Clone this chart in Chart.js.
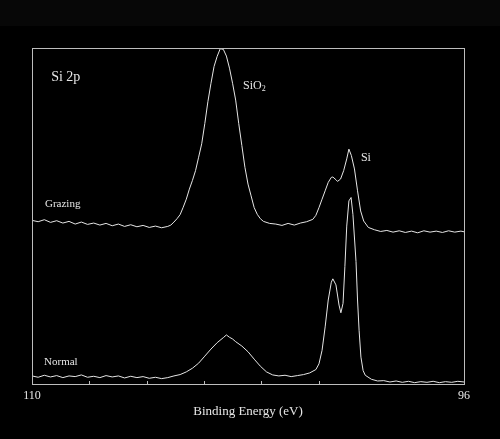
<!DOCTYPE html>
<html>
<head>
<meta charset="utf-8">
<script src="https://cdn.jsdelivr.net/npm/chart.js@4"></script>
<style>
  html, body { margin: 0; padding: 0; background: #000; }
  #wrap { width: 500px; height: 439px; }
</style>
</head>
<body>
<div id="wrap"><canvas id="xps"></canvas></div>
<script>
// Si 2p spectra, binding energy in eV, intensity in arbitrary units (grazing is offset)
const grazingEnergy = [
  110.0, 109.8, 109.6, 109.4, 109.2, 109.0, 108.8, 108.6, 108.4, 108.2,
  108.0, 107.8, 107.6, 107.4, 107.2, 107.0, 106.8, 106.6, 106.4, 106.2,
  106.0, 105.8, 105.6, 105.5, 105.4, 105.3, 105.2, 105.1, 105.0, 104.9,
  104.8, 104.7, 104.6, 104.5, 104.4, 104.3, 104.2, 104.1, 104.0, 103.9,
  103.8, 103.7, 103.6, 103.5, 103.4, 103.3, 103.2, 103.1, 103.0, 102.9,
  102.8, 102.7, 102.6, 102.5, 102.3, 102.1, 101.9, 101.7, 101.5, 101.3,
  101.1, 100.9, 100.8, 100.7, 100.6, 100.5, 100.4, 100.3, 100.25, 100.15,
  100.1, 100.0, 99.9, 99.8, 99.73, 99.65, 99.55, 99.45, 99.35, 99.25,
  99.1, 98.9, 98.7, 98.5, 98.3, 98.1, 97.9, 97.7, 97.5, 97.3,
  97.1, 96.9, 96.7, 96.5, 96.3, 96.1, 96.0
];
const grazingCounts = [
  48.7, 48.3, 48.9, 48.1, 48.6, 47.9, 48.4, 47.6, 48.2, 47.5,
  47.9, 47.3, 47.8, 47.1, 47.6, 46.9, 47.4, 46.8, 47.2, 46.6,
  47.0, 46.5, 46.9, 47.3, 48.2, 49.2, 50.4, 52.6, 55.0, 58.0,
  60.6, 63.5, 67.5, 71.5, 77.5, 84.0, 89.5, 94.5, 97.5, 99.8,
  99.6, 97.6, 94.0, 89.5, 84.5, 77.5, 71.0, 64.5, 59.5, 56.0,
  52.5, 50.5, 49.2, 48.4, 47.8, 47.6, 47.2, 47.8, 47.3, 47.9,
  48.3, 49.0, 50.2, 52.5, 55.0, 57.5, 60.0, 61.5, 61.6, 60.8,
  60.3, 61.0, 63.5, 67.0, 69.9, 68.0, 64.0, 57.5, 51.5, 48.5,
  46.6, 45.9, 45.4, 45.7, 45.2, 45.6, 45.1, 45.5, 45.0, 45.6,
  45.2, 45.5, 45.1, 45.6, 45.2, 45.5, 45.3
];
const normalEnergy = [
  110.0, 109.8, 109.6, 109.4, 109.2, 109.0, 108.8, 108.6, 108.4, 108.2,
  108.0, 107.8, 107.6, 107.4, 107.2, 107.0, 106.8, 106.6, 106.4, 106.2,
  106.0, 105.8, 105.6, 105.4, 105.2, 105.0, 104.8, 104.6, 104.4, 104.2,
  104.0, 103.8, 103.7, 103.6, 103.5, 103.4, 103.2, 103.0, 102.8, 102.6,
  102.4, 102.2, 102.0, 101.8, 101.6, 101.4, 101.2, 101.0, 100.8, 100.7,
  100.6, 100.5, 100.4, 100.3, 100.25, 100.15, 100.05, 99.99, 99.92, 99.86,
  99.8, 99.73, 99.66, 99.6, 99.5, 99.45, 99.4, 99.34, 99.27, 99.2,
  99.0, 98.8, 98.6, 98.4, 98.2, 98.0, 97.8, 97.6, 97.4, 97.2,
  97.0, 96.8, 96.6, 96.4, 96.2, 96.0
];
const normalCounts = [
  2.4, 2.0, 2.6, 2.1, 2.5, 1.9, 2.4, 2.2, 2.7, 2.0,
  2.3, 1.9, 2.5, 2.1, 2.4, 1.8, 2.3, 1.9, 2.2, 1.7,
  2.0, 1.6, 1.9, 2.4, 2.8, 3.6, 4.7, 6.2, 8.3, 10.4,
  12.3, 13.8, 14.6, 13.9, 13.4, 12.6, 11.3, 9.6, 7.4, 5.3,
  3.6, 2.7, 2.4, 2.6, 2.2, 2.5, 2.8, 3.3, 4.3, 6.0,
  10.0, 17.0, 25.0, 30.3, 31.3, 29.5, 23.5, 21.2, 24.0, 35.0,
  47.0, 54.5, 55.5, 50.5, 36.5, 25.0, 16.0, 8.0, 4.0, 2.6,
  1.4, 0.9, 1.0, 0.6, 0.9, 0.5, 0.8, 0.4, 0.7, 0.5,
  0.8, 0.4, 0.7, 0.5, 0.8, 0.6
];
const axisLabels = [110, 96];
const minorTicks = [108.15, 106.27, 104.43, 102.58, 100.70];
const notes = [
  { text: "Si 2p", x: 109.38, y: 90.1, size: 14 },
  { text: "SiO", sub: "2", x: 103.16, y: 87.8, size: 12 },
  { text: "Si", x: 99.34, y: 66.3, size: 12 },
  { text: "Grazing", x: 109.58, y: 52.8, size: 11 },
  { text: "Normal", x: 109.61, y: 5.7, size: 11 }
];

const serif = "'Liberation Serif', 'Times New Roman', serif";
const ink = "#e6e6e6";

const framePlugin = {
  id: "frame",
  beforeDraw(chart) {
    const c = chart.ctx;
    c.save();
    c.fillStyle = "#000";
    c.fillRect(0, 0, chart.width, chart.height);
    c.fillStyle = "#070707";
    c.fillRect(0, 0, chart.width, 26);
    c.restore();
  },
  afterDatasetsDraw(chart) {
    const c = chart.ctx;
    const a = chart.chartArea;
    const xs = chart.scales.x;
    const ys = chart.scales.y;
    c.save();
    c.strokeStyle = "#bdbdbd";
    c.lineWidth = 1;
    c.strokeRect(Math.round(a.left) + 0.5, Math.round(a.top) + 0.5,
      Math.round(a.right - a.left), Math.round(a.bottom - a.top));
    c.beginPath();
    minorTicks.forEach(v => {
      const px = Math.round(xs.getPixelForValue(v)) + 0.5;
      c.moveTo(px, a.bottom);
      c.lineTo(px, a.bottom - 3);
    });
    c.stroke();
    c.fillStyle = ink;
    c.textBaseline = "alphabetic";
    notes.forEach(n => {
      const px = xs.getPixelForValue(n.x);
      const py = ys.getPixelForValue(n.y);
      c.font = n.size + "px " + serif;
      c.fillText(n.text, px, py);
      if (n.sub) {
        const w = c.measureText(n.text).width;
        c.font = Math.round(n.size * 0.7) + "px " + serif;
        c.fillText(n.sub, px + w, py + 2);
      }
    });
    c.restore();
  }
};

new Chart(document.getElementById("xps"), {
  type: "line",
  data: {
    datasets: [
      {
        label: "Grazing",
        data: grazingEnergy.map((e, i) => ({ x: e, y: grazingCounts[i] })),
        borderColor: ink,
        borderWidth: 1,
        pointRadius: 0,
        tension: 0
      },
      {
        label: "Normal",
        data: normalEnergy.map((e, i) => ({ x: e, y: normalCounts[i] })),
        borderColor: ink,
        borderWidth: 1,
        pointRadius: 0,
        tension: 0
      }
    ]
  },
  options: {
    responsive: true,
    maintainAspectRatio: false,
    animation: false,
    layout: { padding: { left: 32, right: 36, top: 48, bottom: 0 } },
    plugins: { legend: { display: false }, tooltip: { enabled: false } },
    scales: {
      x: {
        type: "linear",
        reverse: true,
        min: 96,
        max: 110,
        afterBuildTicks: axis => { axis.ticks = axisLabels.map(v => ({ value: v })); },
        afterFit: axis => { axis.height = 55; },
        grid: { display: false, drawTicks: false, tickLength: 0 },
        border: { display: false },
        ticks: {
          color: ink,
          autoSkip: false,
          maxRotation: 0,
          padding: 5,
          font: { family: serif, size: 12 }
        },
        title: {
          display: true,
          text: "Binding Energy (eV)",
          color: ink,
          padding: { top: 0, bottom: 20 },
          font: { family: serif, size: 13 }
        }
      },
      y: {
        display: false,
        min: 0,
        max: 100
      }
    }
  },
  plugins: [framePlugin]
});
</script>
</body>
</html>
